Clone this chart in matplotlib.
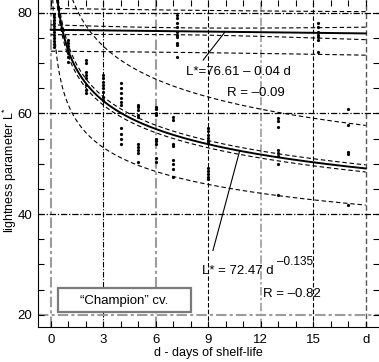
import numpy as np
import matplotlib
matplotlib.use("Agg")
import matplotlib.pyplot as plt
from matplotlib.patches import Rectangle

plt.rcParams['font.family'] = ['Liberation Sans', 'DejaVu Sans']
plt.rcParams['mathtext.fontset'] = 'custom'
plt.rcParams['mathtext.rm'] = 'Liberation Sans'

# measured lightness values, grouped by day of shelf-life
day_cols = [0.2, 1, 2, 3, 4, 5, 6, 7, 7.2, 9, 13, 15.3, 17]
lightness_cols = [
    [79.8, 79.2, 78.6, 78.0, 77.4, 76.8, 76.2, 75.6, 75.0, 74.4, 73.8, 73.2],
    [74.6, 74.0, 73.4, 72.8, 72.0, 71.2, 70.2],
    [70.6, 70.0, 68.2, 67.6, 67.0, 65.6, 64.6, 64.0],
    [67.6, 67.0, 66.2, 65.6, 65.0, 64.2, 63.2, 62.6],
    [66.0, 65.0, 64.0, 63.0, 62.2, 61.6, 57.0, 56.0, 55.0, 54.0],
    [61.6, 61.2, 60.6, 59.6, 59.2, 54.0, 53.3, 52.7, 52.1, 50.3],
    [61.2, 60.8, 60.0, 59.6, 55.0, 54.5, 54.0, 51.1, 50.3],
    [59.2, 58.6, 54.0, 53.6, 50.7, 49.9, 48.9, 47.3],
    [79.5, 78.9, 77.9, 77.2, 76.2, 75.6, 75.2, 74.0, 73.6, 71.2],
    [57.0, 56.4, 55.8, 55.2, 54.6, 54.2, 49.2, 48.6, 48.0, 47.4, 47.0],
    [59.0, 58.4, 57.2, 52.7, 52.1, 51.6, 49.9, 43.7],
    [77.9, 77.2, 76.2, 75.6, 75.2, 74.6, 72.2],
    [60.8, 57.6, 52.3, 51.9, 41.7],
]

# fitted models as printed on the chart
lin_a, lin_b = 76.61, -0.04      # L* = a + b d
pow_a, pow_b = 72.47, -0.135     # L* = a d^b
# band parameters (t*s, n, mean, Sxx) - linear fit and log-log power fit
lin_band = (4.14, 36, 7.3, 1844.0)
pow_band = (0.160, 150, 1.6, 1200.0)

x_ticks = [0, 3, 6, 9, 12, 15, 18]
x_ticklabels = ['0', '3', '6', '9', '12', '15', 'd']
y_ticks = [20, 40, 60, 80]

fig = plt.figure(figsize=(3.79, 3.62), dpi=100)
ax = fig.add_axes([38 / 379, (362 - 326.7) / 362, 1 - 38 / 379, 326.7 / 362])
ax.set_xlim(-0.73, 18.76)
ax.set_ylim(17.61, 82.53)

gray = '#9c9c9c'
gray_ls = (0, (5, 1.5, 1.5, 1.5))
dashdot = (0, (5, 1.5, 1, 1.5))
dash = (0, (4, 2))
vgrid = {0: (gray, gray_ls, 1.5), 3: ('k', dashdot, 0.8), 6: (gray, gray_ls, 1.5),
         9: ('k', dash, 0.8), 12: (gray, gray_ls, 1.2), 15: ('k', dash, 0.8),
         18: ('#555555', dash, 1.0)}
hgrid = {20: (gray, gray_ls, 1.5), 40: ('k', dashdot, 0.9), 60: ('k', dashdot, 0.9),
         80: ('k', dashdot, 0.9)}
for xv, (c, ls, lw) in vgrid.items():
    ax.axvline(xv, color=c, ls=ls, lw=lw, zorder=1)
for yv, (c, ls, lw) in hgrid.items():
    ax.axhline(yv, color=c, ls=ls, lw=lw, zorder=1)

# data points
for d, vals in zip(day_cols, lightness_cols):
    ax.plot([d] * len(vals), vals, 'o', color='k', ms=2.3, mew=0, zorder=3)

# linear fit with confidence and prediction bands
dl = np.linspace(0, 18, 200)
ts, n, m, sxx = lin_band
yl = lin_a + lin_b * dl
conf = ts * np.sqrt(1 / n + (dl - m) ** 2 / sxx)
pred = ts * np.sqrt(1 + 1 / n + (dl - m) ** 2 / sxx)
ax.plot(dl, yl, color='k', lw=1.4, zorder=4)
for sgn in (1, -1):
    ax.plot(dl, yl + sgn * conf, color='k', lw=0.8, ls=(0, (4, 2.5)), zorder=4)
    ax.plot(dl, yl + sgn * pred, color='k', lw=0.8, ls=(0, (4, 2.5)), zorder=4)

# power fit with bands (computed in log space)
dp = np.linspace(0.05, 18, 800)
ts, n, m, sxx = pow_band
lnp = np.log(pow_a) + pow_b * np.log(dp)
conf = ts * np.sqrt(1 / n + (np.log(dp) - m) ** 2 / sxx)
pred = ts * np.sqrt(1 + 1 / n + (np.log(dp) - m) ** 2 / sxx)
ax.plot(dp, np.exp(lnp), color='k', lw=1.4, zorder=4)
for sgn in (1, -1):
    ax.plot(dp, np.exp(lnp + sgn * conf), color='k', lw=0.8, ls=(0, (4, 2.5)), zorder=4)
    ax.plot(dp, np.exp(lnp + sgn * pred), color='k', lw=0.8, ls=(0, (4, 2.5)), zorder=4)

# annotations
ax.text(7.74, 68.2, 'L*=76.61 \u2013 0.04 d', fontsize=9.5, va='center', ha='left', zorder=6)
ax.text(10.07, 64.0, 'R = \u20130.09', fontsize=9.5, va='center', ha='left', zorder=6)
ax.plot([8.71, 9.96], [70.6, 76.2], color='k', lw=0.8, zorder=5)
ax.text(8.65, 28.76, 'L* = 72.47 d', fontsize=9.5, va='center', ha='left', zorder=6)
ax.text(12.93, 30.55, '\u20130.135', fontsize=8.5, va='center', ha='left', zorder=6)
ax.text(12.13, 24.2, 'R = \u20130.82', fontsize=9.5, va='center', ha='left', zorder=6)
ax.plot([9.27, 10.8], [32.76, 52.6], color='k', lw=0.8, zorder=5)

box = Rectangle((0.42, 20.44), 7.6, 4.8, facecolor='white', edgecolor='#7a7a7a',
                lw=1.6, zorder=6)
ax.add_patch(box)
ax.text(4.2, 22.8, '\u201cChampion\u201d cv.', fontsize=9.5, ha='center', va='center', zorder=7)

ax.set_xticks(x_ticks)
ax.set_xticklabels(x_ticklabels)
ax.set_xticks(np.arange(0, 19, 1), minor=True)
ax.set_yticks(y_ticks)
ax.set_yticks(np.arange(20, 81, 5), minor=True)
ax.tick_params(which='both', direction='in', top=True, right=True, length=4,
               width=0.8, labelsize=9.5)
ax.tick_params(axis='x', pad=5)
ax.tick_params(axis='y', pad=4)
ax.spines['top'].set_visible(False)
ax.spines['right'].set_visible(False)

fig.text(208.5 / 379, 1 - 353 / 362, 'd - days of shelf-life', fontsize=9,
         ha='center', va='center')
fig.text(10 / 379, 1 - 170 / 362, 'lightness parameter L$^{*}$', fontsize=9,
         rotation=90, ha='center', va='center')

fig.savefig('out.png', dpi=100)
